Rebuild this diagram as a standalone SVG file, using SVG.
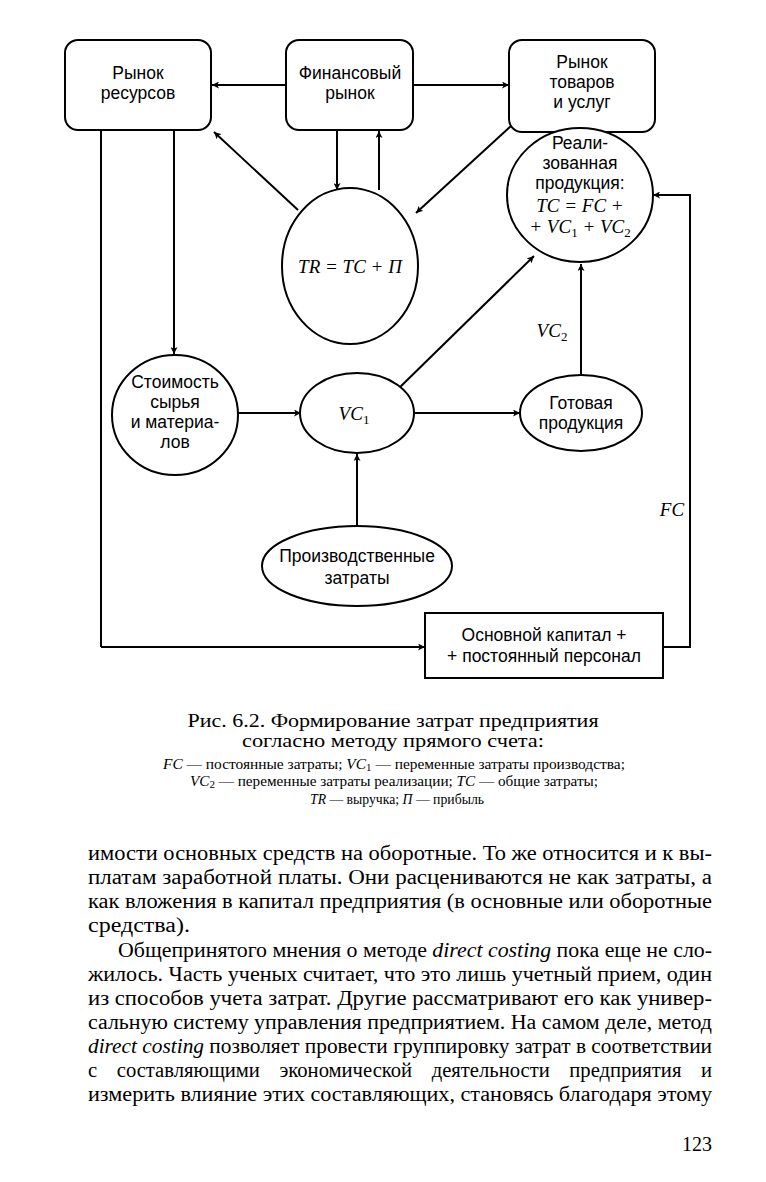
<svg xmlns="http://www.w3.org/2000/svg" width="766" height="1182" viewBox="0 0 766 1182">
<style>
.n{fill:#fff;stroke:#000;stroke-width:2}
.c{fill:none;stroke:#000;stroke-width:2}
.t{font-family:"Liberation Sans",Arial,sans-serif;font-size:17.5px;text-anchor:middle;fill:#000}
.f{font-family:"Liberation Serif","Times New Roman",serif;font-style:italic;font-size:19px;text-anchor:middle;fill:#000}
.s{font-style:normal;font-size:13px}
.cap{font-family:"Liberation Serif","Times New Roman",serif;font-size:19px;text-anchor:middle;fill:#000}
.leg{font-family:"Liberation Serif","Times New Roman",serif;font-size:14px;text-anchor:middle;fill:#000}
.b{font-family:"Liberation Serif","Times New Roman",serif;font-size:20px;fill:#000}
.i{font-style:italic}
</style>
<defs>
<marker id="a" viewBox="0 0 10 10" refX="10" refY="5" markerWidth="7" markerHeight="7" markerUnits="userSpaceOnUse" orient="auto">
<path d="M0,0 L10,5 L0,10 L2.5,5 z" fill="#000"/>
</marker>
</defs>
<rect width="766" height="1182" fill="#fff"/>
<g id="connectors">
<line class="c" x1="286" y1="85" x2="212" y2="85" marker-end="url(#a)"/>
<line class="c" x1="413" y1="85" x2="509" y2="85" marker-end="url(#a)"/>
<line class="c" x1="337" y1="130" x2="337" y2="190" marker-end="url(#a)"/>
<line class="c" x1="379" y1="190" x2="379" y2="131" marker-end="url(#a)"/>
<line class="c" x1="298" y1="210" x2="214" y2="132" marker-end="url(#a)"/>
<line class="c" x1="511" y1="126" x2="416" y2="213" marker-end="url(#a)"/>
<line class="c" x1="101" y1="130" x2="101" y2="647"/>
<line class="c" x1="101" y1="647" x2="425" y2="647" marker-end="url(#a)"/>
<line class="c" x1="174" y1="130" x2="174" y2="354" marker-end="url(#a)"/>
<line class="c" x1="238" y1="413" x2="301" y2="413" marker-end="url(#a)"/>
<line class="c" x1="414" y1="413" x2="520" y2="413" marker-end="url(#a)"/>
<line class="c" x1="357" y1="526" x2="357" y2="454" marker-end="url(#a)"/>
<line class="c" x1="396" y1="391" x2="534" y2="256" marker-end="url(#a)"/>
<line class="c" x1="581" y1="375" x2="581" y2="264" marker-end="url(#a)"/>
<polyline class="c" points="663,647 690,647 690,195 653,195" marker-end="url(#a)"/>
<text class="f" x="552" y="337">VC<tspan class="s" dy="4">2</tspan></text>
<text class="f" x="672" y="516">FC</text>
</g>
<g id="n-resources">
<rect class="n" x="65" y="40" width="146" height="90" rx="13"/>
<text class="t" x="138" y="79">Рынок</text>
<text class="t" x="138" y="99">ресурсов</text>
</g>
<g id="n-finance">
<rect class="n" x="286" y="40" width="127" height="90" rx="13"/>
<text class="t" x="350" y="79">Финансовый</text>
<text class="t" x="350" y="99">рынок</text>
</g>
<g id="n-goods">
<rect class="n" x="509" y="40" width="146" height="92" rx="13"/>
<text class="t" x="582" y="68">Рынок</text>
<text class="t" x="582" y="88">товаров</text>
<text class="t" x="582" y="108">и услуг</text>
</g>
<g id="n-tr">
<ellipse class="n" cx="350" cy="266" rx="68" ry="78"/>
<text class="f" x="350" y="273" font-size="20">TR = TC + П</text>
</g>
<g id="n-realized">
<ellipse class="n" cx="580" cy="195" rx="73" ry="67"/>
<text class="t" x="580" y="149">Реали-</text>
<text class="t" x="580" y="169">зованная</text>
<text class="t" x="580" y="189">продукция:</text>
<text class="f" x="580" y="212">TC = FC +</text>
<text class="f" x="580" y="233">+ VC<tspan class="s" dy="4">1</tspan><tspan dy="-4"> + VC</tspan><tspan class="s" dy="4">2</tspan></text>
</g>
<g id="n-materials">
<ellipse class="n" cx="175" cy="415" rx="63" ry="60"/>
<text class="t" x="175" y="388">Стоимость</text>
<text class="t" x="175" y="408">сырья</text>
<text class="t" x="175" y="428">и материа-</text>
<text class="t" x="175" y="448">лов</text>
</g>
<g id="n-vc1">
<ellipse class="n" cx="357" cy="413" rx="57" ry="40"/>
<text class="f" x="354" y="420" font-size="21">VC<tspan class="s" font-size="14" dy="4">1</tspan></text>
</g>
<g id="n-finished">
<ellipse class="n" cx="581" cy="413" rx="61" ry="38"/>
<text class="t" x="581" y="409">Готовая</text>
<text class="t" x="581" y="429">продукция</text>
</g>
<g id="n-production">
<ellipse class="n" cx="357" cy="566" rx="95" ry="40"/>
<text class="t" x="357" y="562">Производственные</text>
<text class="t" x="357" y="584">затраты</text>
</g>
<g id="n-capital">
<rect class="n" x="425" y="613" width="238" height="65"/>
<text class="t" x="544" y="641">Основной капитал +</text>
<text class="t" x="544" y="662">+ постоянный персонал</text>
</g>
<g id="caption">
<text class="cap" x="393" y="727" textLength="411" lengthAdjust="spacingAndGlyphs">Рис. 6.2. Формирование затрат предприятия</text>
<text class="cap" x="393" y="747" textLength="302" lengthAdjust="spacingAndGlyphs">согласно методу прямого счета:</text>
<text class="leg" x="394" y="769" textLength="462" lengthAdjust="spacingAndGlyphs"><tspan class="i">FC</tspan> — постоянные затраты; <tspan class="i">VC</tspan><tspan font-size="10" dy="2">1</tspan><tspan dy="-2"> — переменные затраты производства;</tspan></text>
<text class="leg" x="394" y="786" textLength="408" lengthAdjust="spacingAndGlyphs"><tspan class="i">VC</tspan><tspan font-size="10" dy="2">2</tspan><tspan dy="-2"> — переменные затраты реализации; </tspan><tspan class="i">TC</tspan> — общие затраты;</text>
<text class="leg" x="397" y="804" textLength="174" lengthAdjust="spacingAndGlyphs"><tspan class="i">TR</tspan> — выручка; <tspan class="i">П</tspan> — прибыль</text>
</g>
<g id="body">
<text class="b" x="88" y="860" textLength="624" lengthAdjust="spacingAndGlyphs">имости основных средств на оборотные. То же относится и к вы-</text>
<text class="b" x="88" y="884" textLength="624" lengthAdjust="spacingAndGlyphs">платам заработной платы. Они расцениваются не как затраты, а</text>
<text class="b" x="88" y="908" textLength="624" lengthAdjust="spacingAndGlyphs">как вложения в капитал предприятия (в основные или оборотные</text>
<text class="b" x="88" y="932" textLength="102" lengthAdjust="spacingAndGlyphs">средства).</text>
<text class="b" x="118" y="957" textLength="594" lengthAdjust="spacingAndGlyphs">Общепринятого мнения о методе <tspan class="i">direct costing</tspan> пока еще не сло-</text>
<text class="b" x="88" y="981" textLength="624" lengthAdjust="spacingAndGlyphs">жилось. Часть ученых считает, что это лишь учетный прием, один</text>
<text class="b" x="88" y="1005" textLength="624" lengthAdjust="spacingAndGlyphs">из способов учета затрат. Другие рассматривают его как универ-</text>
<text class="b" x="88" y="1029" textLength="624" lengthAdjust="spacingAndGlyphs">сальную систему управления предприятием. На самом деле, метод</text>
<text class="b" x="88" y="1053" textLength="624" lengthAdjust="spacingAndGlyphs"><tspan class="i">direct costing</tspan> позволяет провести группировку затрат в соответствии</text>
<text class="b" x="88" y="1077" textLength="624" lengthAdjust="spacingAndGlyphs" word-spacing="14">с составляющими экономической деятельности предприятия и</text>
<text class="b" x="88" y="1101" textLength="624" lengthAdjust="spacingAndGlyphs">измерить влияние этих составляющих, становясь благодаря этому</text>
<text class="b" x="712" y="1151" text-anchor="end">123</text>
</g>
</svg>
